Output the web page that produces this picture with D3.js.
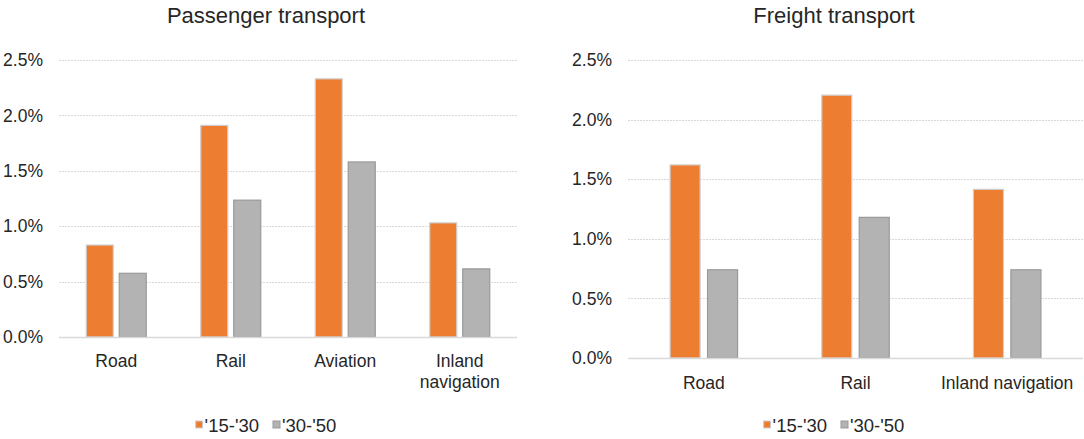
<!DOCTYPE html>
<html>
<head>
<meta charset="utf-8">
<script src="https://cdn.jsdelivr.net/npm/d3@7"></script>
<style>
  body { margin: 0; background: #fff; }
  text { font-family: "Liberation Sans", Arial, sans-serif; fill: #262626; }
</style>
</head>
<body>
<div class="graph"></div>
<script>
const width = 1084;
const height = 439;

const series = ["'15-'30", "'30-'50"];
const yTicks = [0, 0.5, 1, 1.5, 2, 2.5];

const passengerCats = ['Road', 'Rail', 'Aviation', 'Inland navigation'];
const passenger1530 = [0.83, 1.91, 2.33, 1.03];
const passenger3050 = [0.575, 1.235, 1.58, 0.615];

const freightCats = ['Road', 'Rail', 'Inland navigation'];
const freight1530 = [1.62, 2.205, 1.415];
const freight3050 = [0.74, 1.18, 0.74];

const color = {
  fill: ['#ed7d31', '#b3b3b3'],
  stroke: ['#cfcfcf', '#999999'],
  grid: '#d9d9d9',
};

const svg = d3.select('.graph')
  .append('svg')
    .attr('width', width)
    .attr('height', height);

const charts = [
  {
    title: 'Passenger transport', cats: passengerCats, values: [passenger1530, passenger3050],
    x0: 59, x1: 517, y0: 337, y1: 60, center: 266, barFrac: 0.236, stepFrac: 0.288,
    labelY: 367, legendY: 432
  },
  {
    title: 'Freight transport', cats: freightCats, values: [freight1530, freight3050],
    x0: 628, x1: 1083, y0: 358, y1: 60, center: 834, barFrac: 0.198, stepFrac: 0.247,
    labelY: 389, legendY: 432
  }
];

charts.forEach(draw);

function draw(c) {
  const g = svg.append('g');

  const x = d3.scaleBand()
    .domain(c.cats)
    .range([c.x0, c.x1]);

  const y = d3.scaleLinear()
    .domain([0, 2.5])
    .range([c.y0, c.y1]);

  // title
  g.append('text')
    .attr('x', c.center)
    .attr('y', 23)
    .attr('text-anchor', 'middle')
    .style('font-size', '22px')
    .text(c.title);

  // dotted gridlines
  g.selectAll('.grid')
    .data(yTicks.filter(d => d > 0))
    .join('line')
      .attr('x1', c.x0)
      .attr('x2', c.x1)
      .attr('y1', d => Math.round(y(d)) + 0.5)
      .attr('y2', d => Math.round(y(d)) + 0.5)
      .attr('stroke', color.grid)
      .attr('stroke-dasharray', '2,1');

  // y axis labels
  const yAxis = g.append('g')
    .attr('transform', `translate(${c.x0}, 0)`)
    .call(d3.axisLeft(y).tickValues(yTicks).tickSize(0).tickPadding(16)
      .tickFormat(d => d3.format('.1f')(d) + '%'));
  yAxis.select('.domain').remove();
  yAxis.selectAll('text')
    .style('font-size', '17.5px')
    .attr('fill', '#262626')
    .attr('font-family', null);

  // bars
  const band = x.bandwidth();
  const bw = band * c.barFrac;
  const step = band * c.stepFrac;

  c.values.forEach((vals, s) => {
    g.selectAll('.bar' + s)
      .data(vals)
      .join('rect')
        .attr('x', (d, i) => x(c.cats[i]) + band / 2 + (s - 0.5) * step - bw / 2)
        .attr('y', d => y(d))
        .attr('width', bw)
        .attr('height', d => y(0) - y(d))
        .attr('fill', color.fill[s])
        .attr('stroke', color.stroke[s])
        .attr('stroke-width', 1.2);
  });

  // baseline
  g.append('line')
    .attr('x1', c.x0)
    .attr('x2', c.x1)
    .attr('y1', c.y0 + 0.5)
    .attr('y2', c.y0 + 0.5)
    .attr('stroke', color.grid)
    .attr('stroke-width', 1.5);

  // category labels, wrapped when too wide for the band
  g.selectAll('.cat')
    .data(c.cats)
    .join('text')
      .attr('x', d => x(d) + band / 2)
      .attr('y', c.labelY)
      .attr('text-anchor', 'middle')
      .style('font-size', '17.5px')
      .text(d => d)
      .each(function(d) {
        const t = d3.select(this);
        if (this.getComputedTextLength() > band - 4) {
          const words = d.split(' ');
          t.text(null);
          words.forEach((w, i) => {
            t.append('tspan')
              .attr('x', x(d) + band / 2)
              .attr('dy', i === 0 ? 0 : 20.5)
              .text(w);
          });
        }
      });

  // legend
  const leg = g.append('g');
  const items = leg.selectAll('g')
    .data(series)
    .join('g');
  items.append('rect')
    .attr('y', c.legendY - 11)
    .attr('width', 7)
    .attr('height', 7)
    .attr('fill', (d, i) => color.fill[i])
    .attr('stroke', (d, i) => color.stroke[i]);
  items.append('text')
    .attr('x', 9)
    .attr('y', c.legendY)
    .style('font-size', '18.5px')
    .text(d => d);

  let off = 0;
  items.each(function() {
    d3.select(this).attr('transform', `translate(${off}, 0)`);
    off += this.getBBox().width + 14;
  });
  const total = off - 14;
  leg.attr('transform', `translate(${c.center - total / 2}, 0)`);
}
</script>
</body>
</html>
